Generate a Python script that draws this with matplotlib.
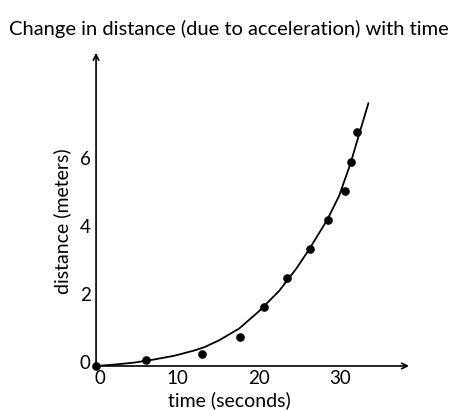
import matplotlib.pyplot as plt
from matplotlib.transforms import ScaledTranslation

plt.rcParams['font.family'] = ['Lato', 'DejaVu Sans']

# measured points
time_s = [0, 6.2, 13.0, 17.7, 20.6, 23.5, 26.3, 28.5, 30.6, 31.4, 32.1]
dist_m = [0, 0.18, 0.35, 0.86, 1.73, 2.58, 3.43, 4.29, 5.15, 6.0, 6.86]

# trend curve
curve_t = [0, 2.2, 4.7, 7.1, 9.6, 12.0, 13.3, 15.1, 17.6, 20.0, 22.5, 24.6,
           26.2, 28.45, 29.9, 31.3, 32.35, 33.5]
curve_d = [0, 0.04, 0.10, 0.19, 0.30, 0.45, 0.55, 0.75, 1.1, 1.6, 2.2, 2.85,
           3.42, 4.3, 5.0, 5.95, 6.8, 7.72]

xticks = [0, 10, 20, 30]
yticks = [0, 2, 4, 6]

fig = plt.figure(figsize=(4.51, 4.11), dpi=100)
ax = fig.add_axes([0.213, 0.1095, 0.694, 0.762])

ax.plot(curve_t, curve_d, color='black', linewidth=1.3,
        solid_capstyle='round', solid_joinstyle='round')
ax.plot(time_s, dist_m, 'o', color='black', markersize=5.2, clip_on=False)

ax.set_xlim(0, 38.5)
ax.set_ylim(0, 9.2)
ax.set_xticks(xticks)
ax.set_yticks(yticks)
ax.tick_params(length=0, labelsize=13.5)
ax.tick_params(axis='x', pad=3)
ax.tick_params(axis='y', pad=4)
for s in ax.spines.values():
    s.set_visible(False)

# nudge tick labels like the reference
up = ScaledTranslation(0, 3 / 72, fig.dpi_scale_trans)
for lab in ax.get_yticklabels():
    lab.set_transform(lab.get_transform() + up)
xlab0 = ax.get_xticklabels()[0]
xlab0.set_transform(xlab0.get_transform() + ScaledTranslation(3 / 72, 0, fig.dpi_scale_trans))

# axes drawn as arrows
arrow = dict(arrowstyle='->', color='black', linewidth=1.2, shrinkA=0, shrinkB=0)
ax.annotate('', xy=(1, 0), xytext=(0, 0), xycoords='axes fraction', arrowprops=arrow)
ax.annotate('', xy=(0, 1), xytext=(0, 0), xycoords='axes fraction', arrowprops=arrow)

ax.set_xlabel('time (seconds)', fontsize=14)
ax.set_ylabel('distance (meters)', fontsize=14)
ax.xaxis.set_label_coords(0.425, -0.08)
ax.yaxis.set_label_coords(-0.08, 0.463)
fig.text(0.508, 0.93, 'Change in distance (due to acceleration) with time',
         ha='center', va='center', fontsize=14.5)

fig.savefig('out.png', dpi=100)
